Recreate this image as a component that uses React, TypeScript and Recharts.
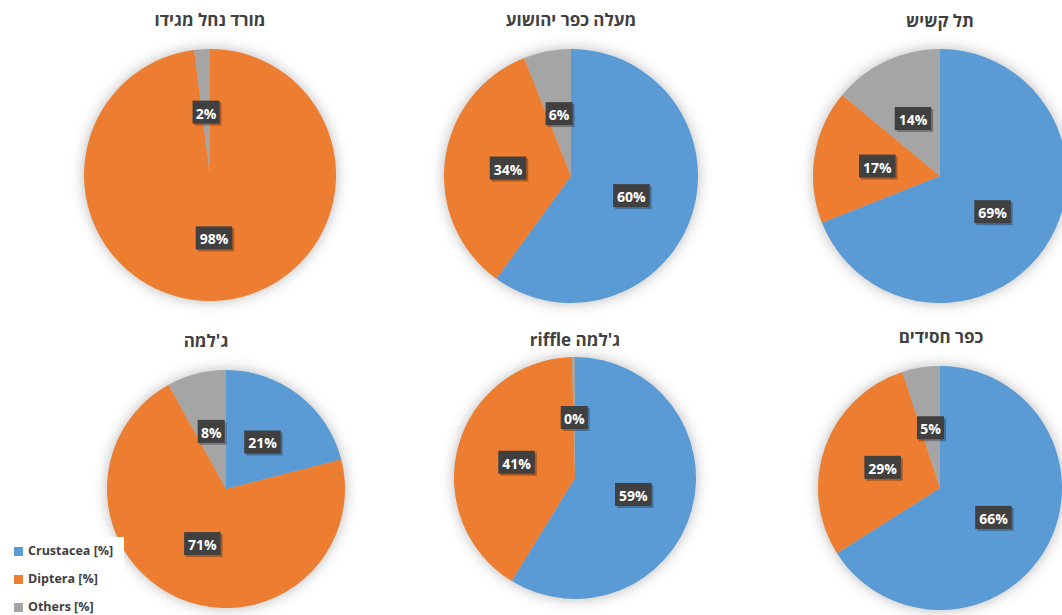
import React from 'react';
import { PieChart, Pie, Cell } from 'recharts';

const categories = ['Crustacea [%]', 'Diptera [%]', 'Others [%]'];
const colors = ['#5B9BD5', '#ED7D31', '#A5A5A5'];

const sites = ['מורד נחל מגידו', 'מעלה כפר יהושוע', 'תל קשיש', "ג'למה", "ג'למה riffle", 'כפר חסידים'];
const crustacea = [0, 60, 69, 21, 59, 66];
const diptera = [98, 34, 17, 71, 41, 29];
const others = [2, 6, 14, 8, 0.4, 5];

// layout of each pie: center, radius, title position
const layout = [
  { cx: 210, cy: 175, r: 126, tx: 210, ty: 20 },
  { cx: 571, cy: 176, r: 127, tx: 571, ty: 20 },
  { cx: 940, cy: 176, r: 127, tx: 940, ty: 21 },
  { cx: 226, cy: 489, r: 119, tx: 206, ty: 341 },
  { cx: 575, cy: 478, r: 121, tx: 575, ty: 340 },
  { cx: 940, cy: 488, r: 122, tx: 941, ty: 337 },
];

const FONT = '"Open Sans", "DejaVu Sans", sans-serif';
const RADIAN = Math.PI / 180;
const noMargin = { top: 0, right: 0, bottom: 0, left: 0 };

const renderLabel = (props: any) => {
  const { cx, cy, midAngle, outerRadius, percent, value } = props;
  if (!value) return null;
  const r = outerRadius * 0.5;
  const x = cx + r * Math.cos(-midAngle * RADIAN);
  const y = cy + r * Math.sin(-midAngle * RADIAN);
  const txt = `${Math.round(percent * 100)}%`;
  const w = txt.length * 9.5 + 8;
  const h = 23;
  return (
    <g>
      <rect x={x - w / 2 + 2} y={y - h / 2 + 2} width={w} height={h} fill="rgba(0,0,0,0.28)" />
      <rect x={x - w / 2} y={y - h / 2} width={w} height={h} fill="#404040" />
      <text x={x} y={y + 1} fill="#fff" textAnchor="middle" dominantBaseline="central"
        fontFamily={FONT} fontWeight={700} fontSize={14}>
        {txt}
      </text>
    </g>
  );
};

export default function App() {
  const pieData = sites.map((_, i) => [
    { name: categories[0], value: crustacea[i] },
    { name: categories[1], value: diptera[i] },
    { name: categories[2], value: others[i] },
  ]);

  return (
    <div style={{ position: 'absolute', left: 0, top: 0, width: 1062, height: 615, background: '#fff', overflow: 'hidden', fontFamily: FONT }}>
      {/* shapes with soft shadow */}
      <div style={{ position: 'absolute', left: 0, top: 0, filter: 'drop-shadow(0 0 7px rgba(0,0,0,0.28))' }}>
        <PieChart width={1062} height={615} margin={noMargin}>
          {pieData.map((d, i) => (
            <Pie key={i} data={d} dataKey="value" cx={layout[i].cx} cy={layout[i].cy} outerRadius={layout[i].r}
              startAngle={90} endAngle={-270} stroke="none" isAnimationActive={false}>
              {d.map((_, j) => <Cell key={j} fill={colors[j]} />)}
            </Pie>
          ))}
        </PieChart>
      </div>
      {/* labels */}
      <div style={{ position: 'absolute', left: 0, top: 0 }}>
        <PieChart width={1062} height={615} margin={noMargin}>
          {pieData.map((d, i) => (
            <Pie key={i} data={d} dataKey="value" cx={layout[i].cx} cy={layout[i].cy} outerRadius={layout[i].r}
              startAngle={90} endAngle={-270} fill="none" stroke="none" label={renderLabel} labelLine={false}
              isAnimationActive={false}>
              {d.map((_, j) => <Cell key={j} fill="none" />)}
            </Pie>
          ))}
        </PieChart>
      </div>
      {sites.map((s, i) => (
        <div key={s} style={{ position: 'absolute', left: layout[i].tx - 150, top: layout[i].ty - 12, width: 300, textAlign: 'center', fontSize: 17, fontWeight: 700, color: '#404040', lineHeight: '24px', direction: 'rtl' }}>
          {s}
        </div>
      ))}
      <div style={{ position: 'absolute', left: 8, top: 537, width: 116, height: 78, background: '#fff' }}>
        {categories.map((c, j) => (
          <div key={c} style={{ position: 'absolute', left: 6, top: 6 + j * 28, display: 'flex', alignItems: 'center', fontSize: 12.5, fontWeight: 700, color: '#404040', lineHeight: '16px' }}>
            <span style={{ display: 'inline-block', width: 9, height: 9, background: colors[j], marginRight: 5 }} />
            {c}
          </div>
        ))}
      </div>
    </div>
  );
}
